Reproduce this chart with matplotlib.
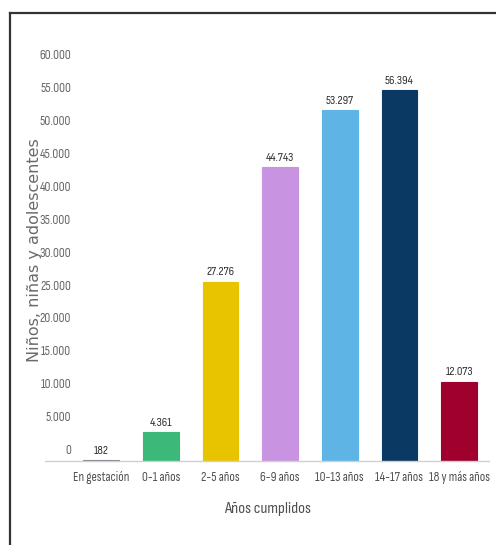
import matplotlib
matplotlib.use("Agg")
import matplotlib.pyplot as plt
from matplotlib.transforms import ScaledTranslation
from matplotlib.lines import Line2D

categories = ["En gestación", "0-1 años", "2-5 años", "6-9 años", "10-13 años", "14-17 años", "18 y más años"]
values = [182, 4361, 27276, 44743, 53297, 56394, 12073]
value_labels = ["182", "4.361", "27.276", "44.743", "53.297", "56.394", "12.073"]
colors = ["#86818f", "#3cb878", "#e8c400", "#c894e2", "#5eb4e4", "#0a3a64", "#a0002d"]
yticks = list(range(0, 60001, 5000))
ytick_labels = ["0", "5.000", "10.000", "15.000", "20.000", "25.000", "30.000",
                "35.000", "40.000", "45.000", "50.000", "55.000", "60.000"]

narrow = ["Sofia Sans Condensed", "Roboto Condensed", "PT Sans Narrow", "DejaVu Sans"]
lw = "normal"

W, H = 496, 545
fig = plt.figure(figsize=(W / 100, H / 100), dpi=100)
fig.patch.set_facecolor("white")

L, R, B, T = 45, 489, 461, 40
ax = fig.add_axes([L / W, 1 - B / H, (R - L) / W, (B - T) / H])

x = list(range(len(categories)))
ax.bar(x, values, width=0.6, color=colors, edgecolor=colors, linewidth=0.8, zorder=2)
for xi, v, lab in zip(x, values, value_labels):
    ax.annotate(lab, (xi, v), xytext=(0, 3), textcoords="offset points",
                ha="center", va="bottom", fontsize=9, color="#2e2e2e",
                family=narrow, fontweight=lw)

ax.set_xlim(-0.94, 6.5)
ax.set_ylim(0, 64000)
ax.set_yticks(yticks)
ax.set_yticklabels(ytick_labels, family=narrow, fontsize=9.5, color="#666666", fontweight=lw)
ax.set_xticks(x)
ax.set_xticklabels(categories, family=narrow, fontsize=9.5, color="#505050", fontweight=lw)
ax.tick_params(axis="y", length=0, pad=0)
ax.tick_params(axis="x", length=0, pad=7)
off = ScaledTranslation(26 / 100, 12 / 100, fig.dpi_scale_trans)
for lbl in ax.get_yticklabels():
    lbl.set_transform(lbl.get_transform() + off)

for s in ["top", "right", "left"]:
    ax.spines[s].set_visible(False)
ax.spines["bottom"].set_color("#d0d0d0")
ax.spines["bottom"].set_linewidth(1.0)
ax.set_facecolor("white")

fig.text(268 / W, 1 - 509 / H, "Años cumplidos", ha="center", va="center",
         fontsize=12, color="#505050", family=narrow, fontweight=lw)
fig.text(35 / W, 1 - 250 / H, "Niños, niñas y adolescentes", rotation=90,
         ha="center", va="center", fontsize=11.5, color="#6a6a6a", family="DejaVu Sans")

# frame
fig.add_artist(Line2D([10 / W, 1.0], [1 - 13 / H, 1 - 13 / H], transform=fig.transFigure,
                      color="#333333", linewidth=1.6))
fig.add_artist(Line2D([10 / W, 10 / W], [0, 1 - 13 / H], transform=fig.transFigure,
                      color="#333333", linewidth=1.6))

fig.savefig("out.png", dpi=100, facecolor="white")
